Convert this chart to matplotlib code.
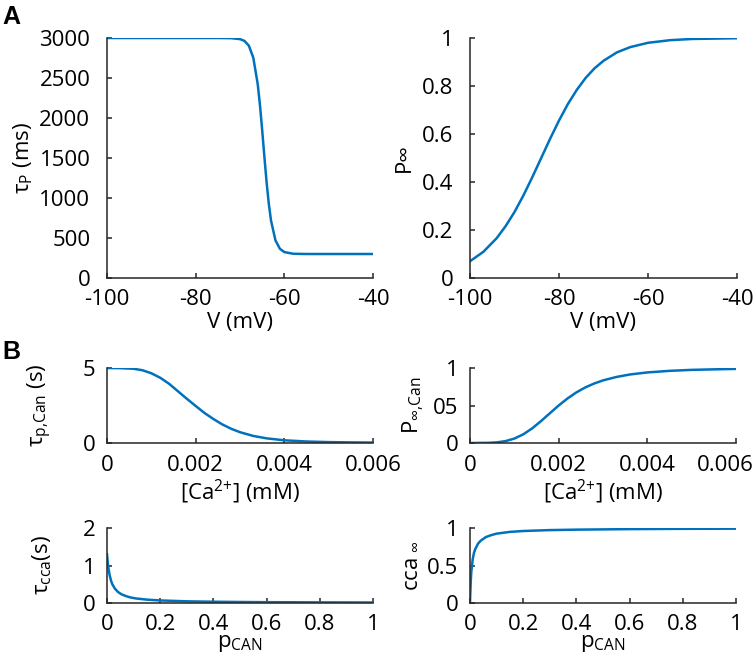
import numpy as np
import matplotlib
matplotlib.use('Agg')
import matplotlib.pyplot as plt

plt.rcParams['font.family'] = ['Open Sans', 'DejaVu Sans']
plt.rcParams['mathtext.fontset'] = 'custom'
plt.rcParams['mathtext.rm'] = 'Open Sans'
plt.rcParams['mathtext.it'] = 'Open Sans'
plt.rcParams['mathtext.default'] = 'regular'
plt.rcParams['axes.unicode_minus'] = False

# --- data ---
# A, left: tau_P (ms) vs V (mV)
v_tau = [-100, -90, -80, -75, -72, -70, -69, -68, -67, -66, -65.5, -65, -64.5,
         -64, -63.5, -63, -62, -61, -60, -58, -55, -50, -40]
tau_p = [3000, 3000, 3000, 3000, 2998, 2986, 2964, 2904, 2754, 2422, 2163, 1851, 1516,
         1196, 925, 717, 470, 365, 324, 303, 300, 300, 300]

# A, right: P_inf vs V (mV)
v_pinf = [-100, -97, -94, -92, -90, -88, -86, -84, -82, -80, -78, -76, -74, -72,
          -70, -67, -64, -60, -55, -50, -40]
p_inf = [0.070, 0.109, 0.166, 0.216, 0.275, 0.344, 0.420, 0.500, 0.580, 0.656, 0.725,
         0.784, 0.834, 0.874, 0.905, 0.940, 0.962, 0.980, 0.991, 0.996, 0.999]

# B, top left: tau_p,Can (s) vs [Ca2+] (mM)
ca_tau = [0, 0.0003, 0.0006, 0.0008, 0.001, 0.0012, 0.0014, 0.0016, 0.0018, 0.002,
          0.0022, 0.0024, 0.0026, 0.0028, 0.003, 0.0033, 0.0036, 0.004, 0.0045,
          0.005, 0.0055, 0.006]
tau_can = [5.0, 4.99, 4.95, 4.85, 4.65, 4.35, 3.95, 3.45, 2.95, 2.47, 2.0, 1.6, 1.24,
           0.95, 0.72, 0.47, 0.31, 0.18, 0.10, 0.06, 0.04, 0.03]

# B, top right: P_inf,Can vs [Ca2+] (mM)
ca_pinf = [0, 0.0004, 0.0006, 0.0008, 0.001, 0.0012, 0.0014, 0.0016, 0.0018, 0.002,
           0.0022, 0.0024, 0.0026, 0.0028, 0.003, 0.0033, 0.0036, 0.004, 0.0045,
           0.005, 0.0055, 0.006]
p_inf_can = [0, 0.002, 0.008, 0.025, 0.059, 0.115, 0.194, 0.291, 0.396, 0.500, 0.594,
             0.675, 0.741, 0.793, 0.835, 0.880, 0.913, 0.941, 0.962, 0.975, 0.982, 0.988]

# B, bottom left: tau_cca (s) vs p_CAN
p_tau = [0, 0.003, 0.006, 0.01, 0.015, 0.02, 0.03, 0.042, 0.055, 0.073, 0.09, 0.11,
         0.15, 0.2, 0.3, 0.4, 0.5, 0.6, 0.8, 1.0]
tau_cca = [1.30, 1.07, 0.90, 0.74, 0.60, 0.50, 0.38, 0.29, 0.23, 0.18, 0.145, 0.12,
           0.09, 0.068, 0.045, 0.034, 0.027, 0.022, 0.017, 0.013]

# B, bottom right: cca_inf vs p_CAN
p_cca = [0, 0.001, 0.003, 0.005, 0.01, 0.015, 0.02, 0.03, 0.04, 0.06, 0.08, 0.1,
         0.15, 0.2, 0.3, 0.4, 0.6, 0.8, 1.0]
cca_inf = [0, 0.12, 0.30, 0.42, 0.58, 0.67, 0.72, 0.79, 0.83, 0.88, 0.905, 0.925,
           0.948, 0.96, 0.972, 0.978, 0.985, 0.989, 0.991]

v_ticks = [-100, -80, -60, -40]
ca_ticks = [0, 0.002, 0.004, 0.006]
ca_labels = ['0', '0.002', '0.004', '0.006']
p_ticks = [0, 0.2, 0.4, 0.6, 0.8, 1]
p_labels = ['0', '0.2', '0.4', '0.6', '0.8', '1']

line_col = '#0072BD'
ax_col = '#262626'
fs = 16
lw = 1.8

fig = plt.figure(figsize=(7.56, 6.63), dpi=100)
W, H = 756.0, 663.0


def make_axes(left, top, right, bottom):
    return fig.add_axes([left / W, 1 - bottom / H, (right - left) / W, (bottom - top) / H])


def style(ax, xpad, ypad):
    for s in ['top', 'right']:
        ax.spines[s].set_visible(False)
    for s in ['left', 'bottom']:
        ax.spines[s].set_color(ax_col)
        ax.spines[s].set_linewidth(1.1)
    ax.tick_params(direction='in', length=3.5, width=1.1, color=ax_col,
                   labelsize=fs, labelcolor='black')
    ax.tick_params(axis='x', pad=xpad)
    ax.tick_params(axis='y', pad=ypad)


# A left
ax1 = make_axes(107, 38, 373, 278)
ax1.plot(v_tau, tau_p, color=line_col, lw=lw)
ax1.set_xlim(-100, -40)
ax1.set_ylim(0, 3000)
ax1.set_xticks(v_ticks)
ax1.set_yticks([0, 500, 1000, 1500, 2000, 2500, 3000])
style(ax1, 8, 12)
ax1.set_xlabel('V (mV)', fontsize=fs)
ax1.set_ylabel(r'$\tau_{P}$ (ms)', fontsize=fs)
ax1.xaxis.set_label_coords(0.5, -0.14)
ax1.yaxis.set_label_coords(-0.27, 0.5)

# A right
ax2 = make_axes(470, 38, 737, 278)
ax2.plot(v_pinf, p_inf, color=line_col, lw=lw)
ax2.set_xlim(-100, -40)
ax2.set_ylim(0, 1)
ax2.set_xticks(v_ticks)
ax2.set_yticks([0, 0.2, 0.4, 0.6, 0.8, 1])
ax2.set_yticklabels(['0', '0.2', '0.4', '0.6', '0.8', '1'])
style(ax2, 8, 12)
ax2.set_xlabel('V (mV)', fontsize=fs)
ax2.set_ylabel('P∞', fontsize=fs)
ax2.xaxis.set_label_coords(0.5, -0.14)
ax2.yaxis.set_label_coords(-0.205, 0.5)

# B top left
ax3 = make_axes(107, 368, 373, 443)
ax3.plot(ca_tau, tau_can, color=line_col, lw=lw)
ax3.set_xlim(0, 0.006)
ax3.set_ylim(0, 5)
ax3.set_xticks(ca_ticks)
ax3.set_xticklabels(ca_labels)
ax3.set_yticks([0, 5])
style(ax3, 8.7, 8.5)
ax3.set_xlabel(r'[Ca$^{2{+}}$] (mM)', fontsize=fs)
ax3.set_ylabel(r'$\tau_{p{,}Can}$ (s)', fontsize=fs)
ax3.xaxis.set_label_coords(0.5, -0.46)
ax3.yaxis.set_label_coords(-0.2, 0.5)

# B top right
ax4 = make_axes(470, 368, 736, 443)
ax4.plot(ca_pinf, p_inf_can, color=line_col, lw=lw)
ax4.set_xlim(0, 0.006)
ax4.set_ylim(0, 1)
ax4.set_xticks(ca_ticks)
ax4.set_xticklabels(ca_labels[:-1] + [''])
ax4.set_yticks([0, 0.5, 1])
ax4.set_yticklabels(['0', '05', '1'])
style(ax4, 8.7, 8.5)
# last tick label is pushed left to stay inside the figure, as in the original
ax4.annotate(ca_labels[-1], xy=(1, 0), xycoords='axes fraction',
             xytext=(-11, -12), textcoords='offset pixels',
             ha='center', va='top', fontsize=fs)
ax4.set_xlabel(r'[Ca$^{2{+}}$] (mM)', fontsize=fs)
ax4.set_ylabel(r'P$_{∞{,}Can}$', fontsize=fs)
ax4.xaxis.set_label_coords(0.5, -0.46)
ax4.yaxis.set_label_coords(-0.165, 0.5)

# B bottom left
ax5 = make_axes(107, 528, 373, 603)
ax5.plot(p_tau, tau_cca, color=line_col, lw=lw)
ax5.set_xlim(0, 1)
ax5.set_ylim(0, 2)
ax5.set_xticks(p_ticks)
ax5.set_xticklabels(p_labels)
ax5.set_yticks([0, 1, 2])
style(ax5, 8, 8.5)
ax5.set_xlabel(r'p$_{CAN}$', fontsize=fs)
ax5.set_ylabel(r'$\tau_{cca}$(s)', fontsize=fs)
ax5.xaxis.set_label_coords(0.5, -0.4)
ax5.yaxis.set_label_coords(-0.2, 0.5)

# B bottom right
ax6 = make_axes(470, 528, 736, 603)
ax6.plot(p_cca, cca_inf, color=line_col, lw=lw)
ax6.set_xlim(0, 1)
ax6.set_ylim(0, 1)
ax6.set_xticks(p_ticks)
ax6.set_xticklabels(p_labels)
ax6.set_yticks([0, 0.5, 1])
ax6.set_yticklabels(['0', '0.5', '1'])
style(ax6, 8, 8.5)
ax6.set_xlabel(r'p$_{CAN}$', fontsize=fs)
ax6.set_ylabel(r'cca$_{\ ∞}$', fontsize=fs)
ax6.xaxis.set_label_coords(0.5, -0.4)
ax6.yaxis.set_label_coords(-0.185, 0.5)

# panel letters
fig.text(2 / W, 1 - 5 / H, 'A', fontsize=18, fontweight='bold',
         family=['Liberation Sans', 'DejaVu Sans'], va='top', ha='left')
fig.text(2 / W, 1 - 340 / H, 'B', fontsize=18, fontweight='bold',
         family=['Liberation Sans', 'DejaVu Sans'], va='top', ha='left')

fig.savefig('out.png', dpi=100)
